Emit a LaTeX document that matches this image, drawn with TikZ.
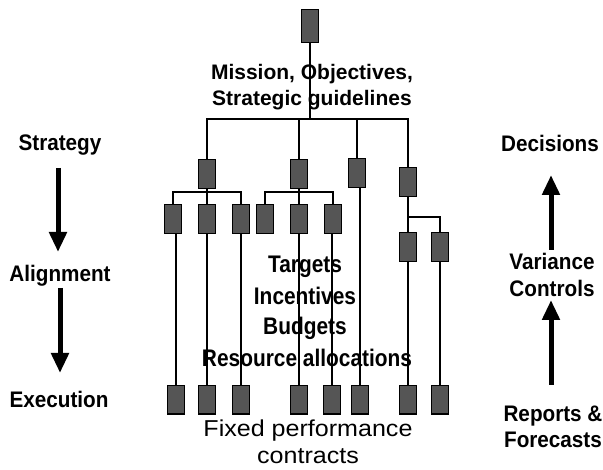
\documentclass[tikz,border=0pt]{standalone}
\usepackage{fontspec}
\setmainfont{Liberation Sans}
\usetikzlibrary{arrows.meta}
\definecolor{boxgray}{HTML}{555555}
\begin{document}
\begin{tikzpicture}[x=1pt,y=-1pt,
  box/.style={draw=black,fill=boxgray,line width=1.3pt,minimum width=16pt,minimum height=28pt,inner sep=0pt},
  conn/.style={draw=black,line width=1.4pt},
  lbl/.style={font=\bfseries\fontsize{21}{25}\selectfont,inner sep=0pt,anchor=base},
  sidelbl/.style={font=\bfseries\fontsize{22.5}{26}\selectfont,inner sep=0pt,anchor=base},
  midlbl/.style={font=\bfseries\fontsize{24}{28}\selectfont,inner sep=0pt,anchor=base},
  reglbl/.style={font=\fontsize{23}{27}\selectfont,inner sep=0pt,anchor=base},
  bigarrow/.style={line width=5pt,-{Triangle[width=17pt,length=20pt]}}
]
\useasboundingbox (0,0) rectangle (603,470);

% boxes
\node[box,minimum height=32pt] (top) at (310,26) {};
\node[box] (l2a) at (207,174) {};
\node[box] (l2b) at (299,174) {};
\node[box] (l2c) at (357,173) {};
\node[box] (l2d) at (408,182) {};
\node[box] (l3a) at (173,219) {};
\node[box] (l3b) at (207,219) {};
\node[box] (l3c) at (241,219) {};
\node[box] (l3d) at (265,219) {};
\node[box] (l3e) at (299,219) {};
\node[box] (l3f) at (333,219) {};
\node[box] (l3g) at (408,247) {};
\node[box] (l3h) at (440,247) {};
\node[box,minimum height=27pt] (b1) at (176,400) {};
\node[box,minimum height=27pt] (b2) at (207,400) {};
\node[box,minimum height=27pt] (b3) at (241,400) {};
\node[box,minimum height=27pt] (b4) at (299,400) {};
\node[box,minimum height=27pt] (b5) at (332,400) {};
\node[box,minimum height=27pt] (b6) at (360,400) {};
\node[box,minimum height=27pt] (b7) at (408,400) {};
\node[box,minimum height=27pt] (b8) at (440,400) {};

\coordinate (j0) at (310,119);
\coordinate (j1) at (0,192);
\coordinate (j2) at (0,217);

% connectors
\draw[conn] (top) -- (j0);
\draw[conn] (l2a) -- (l2a |- j0) -- (l2d |- j0) -- (l2d);
\draw[conn] (l2b) -- (l2b |- j0);
\draw[conn] (l2c) -- (l2c |- j0);
\draw[conn] (l2a) -- (l2a |- j1);
\draw[conn] (l3a) -- (l3a |- j1) -- (l3c |- j1) -- (l3c);
\draw[conn] (l3b) -- (l3b |- j1);
\draw[conn] (l2b) -- (l2b |- j1);
\draw[conn] (l3d) -- (l3d |- j1) -- (l3f |- j1) -- (l3f);
\draw[conn] (l3e) -- (l3e |- j1);
\draw[conn] (l2d) -- (l3g);
\draw[conn] (l2d |- j2) -- (l3h |- j2) -- (l3h);
\draw[conn] (b1) -- (b1 |- l3a.south);
\draw[conn] (b2) -- (l3b);
\draw[conn] (b3) -- (l3c);
\draw[conn] (b4) -- (l3e);
\draw[conn] (b5) -- (b5 |- l3f.south);
\draw[conn] (b6) -- (b6 |- l2c.south);
\draw[conn] (b7) -- (l3g);
\draw[conn] (b8) -- (l3h);

% redraw boxes on top of lines
\foreach \n in {top,l2a,l2b,l2c,l2d,l3a,l3b,l3c,l3d,l3e,l3f,l3g,l3h,b1,b2,b3,b4,b5,b6,b7,b8}{
  \path[draw=black,fill=boxgray,line width=1.3pt] (\n.south west) rectangle (\n.north east);
}

% center texts
\node[lbl] (m1) at (312,79.5) {Mission, Objectives,};
\node[lbl] (m2) at (312,105.5) {Strategic guidelines};
\node[midlbl] (t1) at (305,273) {\scalebox{0.87}[1]{Targets}};
\node[midlbl] (t2) at (305,305) {\scalebox{0.87}[1]{Incentives}};
\node[midlbl] (t3) at (305,335) {\scalebox{0.87}[1]{Budgets}};
\node[midlbl] (t4) at (307,367) {\scalebox{0.87}[1]{Resource allocations}};
\node[reglbl] (f1) at (308,437) {\scalebox{1.09}[1]{Fixed performance}};
\node[reglbl] (f2) at (308,464) {\scalebox{1.09}[1]{contracts}};

% left
\node[sidelbl] (strat) at (60,151) {\scalebox{0.92}[1]{Strategy}};
\node[sidelbl] (align) at (60,282) {\scalebox{0.92}[1]{Alignment}};
\node[sidelbl] (exec) at (59,408) {\scalebox{0.92}[1]{Execution}};
\coordinate (a1s) at (58,168);
\coordinate (a1e) at (58,252);
\coordinate (a2s) at (60,288);
\coordinate (a2e) at (60,373);
\draw[bigarrow] (a1s) -- (a1e);
\draw[bigarrow] (a2s) -- (a2e);

% right
\node[sidelbl] (dec) at (550,152) {\scalebox{0.92}[1]{Decisions}};
\node[sidelbl] (var) at (552,270) {\scalebox{0.92}[1]{Variance}};
\node[sidelbl] (ctl) at (552,297) {\scalebox{0.92}[1]{Controls}};
\node[sidelbl] (rep) at (553,422) {\scalebox{0.92}[1]{Reports \&}};
\node[sidelbl] (fc) at (553,448) {\scalebox{0.92}[1]{Forecasts}};
\coordinate (a3s) at (551,250);
\coordinate (a3e) at (551,175);
\coordinate (a4s) at (551,385);
\coordinate (a4e) at (551,300);
\draw[bigarrow] (a3s) -- (a3e);
\draw[bigarrow] (a4s) -- (a4e);
\end{tikzpicture}
\end{document}
